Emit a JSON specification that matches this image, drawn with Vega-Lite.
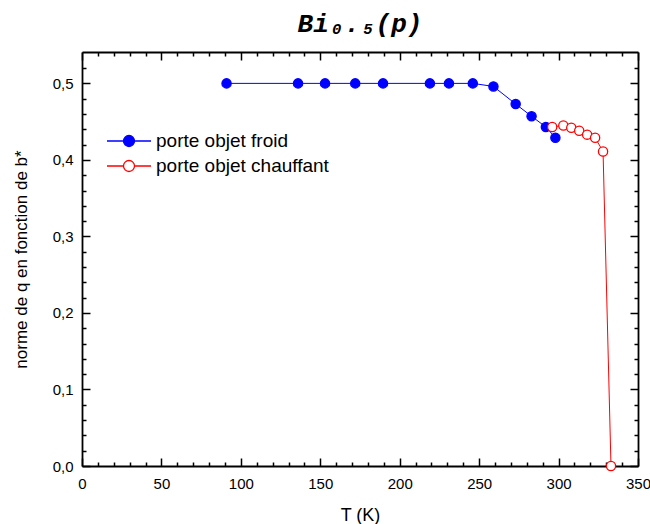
{
  "$schema": "https://vega.github.io/schema/vega-lite/v6.json",
  "width": 556,
  "height": 414,
  "autosize": {"type": "none"},
  "padding": {"left": 82, "top": 52, "right": 12, "bottom": 58},
  "background": "white",
  "config": {
    "view": {"stroke": null},
    "axis": {"grid": false, "domainColor": "black", "domainWidth": 1.8, "tickColor": "black", "tickWidth": 1.5, "labelColor": "black", "titleColor": "black", "labelFont": "Liberation Sans", "titleFont": "Liberation Sans", "labelFontSize": 15, "labelFlush": false, "labelOverlap": false, "titleFontWeight": "normal"}
  },
  "title": {"text": "Bi₀.₅(p)", "font": "Liberation Mono", "fontSize": 26, "fontWeight": "bold", "fontStyle": "italic", "anchor": "middle", "offset": 14, "color": "black"},
  "datasets": {
    "pts": [
      {"serie": "porte objet froid", "T": 91, "q": 0.5},
      {"serie": "porte objet froid", "T": 136, "q": 0.5},
      {"serie": "porte objet froid", "T": 153, "q": 0.5},
      {"serie": "porte objet froid", "T": 172, "q": 0.5},
      {"serie": "porte objet froid", "T": 189.5, "q": 0.5},
      {"serie": "porte objet froid", "T": 219, "q": 0.5},
      {"serie": "porte objet froid", "T": 231, "q": 0.5},
      {"serie": "porte objet froid", "T": 246, "q": 0.5},
      {"serie": "porte objet froid", "T": 259, "q": 0.496},
      {"serie": "porte objet froid", "T": 273, "q": 0.473},
      {"serie": "porte objet froid", "T": 283, "q": 0.457},
      {"serie": "porte objet froid", "T": 292, "q": 0.443},
      {"serie": "porte objet froid", "T": 298, "q": 0.429},
      {"serie": "porte objet chauffant", "T": 296, "q": 0.443},
      {"serie": "porte objet chauffant", "T": 303, "q": 0.445},
      {"serie": "porte objet chauffant", "T": 308, "q": 0.442},
      {"serie": "porte objet chauffant", "T": 313, "q": 0.438},
      {"serie": "porte objet chauffant", "T": 318, "q": 0.433},
      {"serie": "porte objet chauffant", "T": 323, "q": 0.429},
      {"serie": "porte objet chauffant", "T": 328, "q": 0.411},
      {"serie": "porte objet chauffant", "T": 333, "q": 0}
    ]
  },
  "data": {"name": "pts"},
  "resolve": {"axis": {"x": "independent", "y": "independent"}},
  "layer": [
    {
      "mark": {"type": "line", "strokeWidth": 1},
      "encoding": {
        "x": {"field": "T", "type": "quantitative", "scale": {"domain": [0, 350], "nice": false, "zero": false},
          "axis": {"orient": "bottom", "title": "T (K)", "titleFontSize": 18, "titlePadding": 11,
            "values": [0,10,20,30,40,50,60,70,80,90,100,110,120,130,140,150,160,170,180,190,200,210,220,230,240,250,260,270,280,290,300,310,320,330,340,350],
            "labelExpr": "datum.value % 50 === 0 ? datum.label : ''",
            "tickSize": {"condition": {"test": "datum.value % 50 === 0", "value": -8}, "value": -4},
            "labelPadding": 18}},
        "y": {"field": "q", "type": "quantitative", "scale": {"domain": [0, 0.541], "nice": false, "zero": false},
          "axis": {"orient": "left", "title": "norme de q en fonction de b*", "titleFontSize": 17, "titlePadding": 22,
            "values": [0,0.02,0.04,0.06,0.08,0.1,0.12,0.14,0.16,0.18,0.2,0.22,0.24,0.26,0.28,0.3,0.32,0.34,0.36,0.38,0.4,0.42,0.44,0.46,0.48,0.5,0.52],
            "labelExpr": "abs(datum.value*10 - round(datum.value*10)) < 0.001 ? replace(format(datum.value, '.1f'), '.', ',') : ''",
            "tickSize": {"condition": {"test": "abs(datum.value*10 - round(datum.value*10)) < 0.001", "value": -8}, "value": -4},
            "labelPadding": 17}},
        "color": {"field": "serie", "type": "nominal",
          "scale": {"domain": ["porte objet froid", "porte objet chauffant"], "range": ["#0000ff", "#ff0000"]},
          "legend": {"orient": "none", "legendX": 35, "legendY": 77, "title": null, "padding": 0,
            "symbolType": "M-2,0H-0.5A0.5,0.5 0 1 1 0.5,0A0.5,0.5 0 1 1 -0.5,0M0.5,0H2",
            "symbolSize": 484, "symbolStrokeWidth": 1.3, "labelFont": "Liberation Sans", "labelFontSize": 19, "labelLimit": 0, "labelColor": "black", "labelOffset": 15, "rowPadding": 3,
            "encode": {"symbols": {"update": {
              "fill": [{"test": "datum.value === 'porte objet froid'", "value": "#0000ff"}, {"value": "#ffffff"}],
              "stroke": [{"test": "datum.value === 'porte objet froid'", "value": "#0000ff"}, {"value": "#ff0000"}],
              "opacity": {"value": 1}}}}}}
      }
    },
    {
      "mark": {"type": "point", "shape": "circle", "size": 85, "strokeWidth": 1.3, "opacity": 1},
      "encoding": {
        "x": {"field": "T", "type": "quantitative",
          "axis": {"orient": "top", "title": null, "labels": false,
            "values": [0,10,20,30,40,50,60,70,80,90,100,110,120,130,140,150,160,170,180,190,200,210,220,230,240,250,260,270,280,290,300,310,320,330,340,350],
            "tickSize": {"condition": {"test": "datum.value % 50 === 0", "value": -8}, "value": -4}}},
        "y": {"field": "q", "type": "quantitative",
          "axis": {"orient": "right", "title": null, "labels": false,
            "values": [0,0.02,0.04,0.06,0.08,0.1,0.12,0.14,0.16,0.18,0.2,0.22,0.24,0.26,0.28,0.3,0.32,0.34,0.36,0.38,0.4,0.42,0.44,0.46,0.48,0.5,0.52],
            "tickSize": {"condition": {"test": "abs(datum.value*10 - round(datum.value*10)) < 0.001", "value": -8}, "value": -4}}},
        "stroke": {"field": "serie", "type": "nominal",
          "scale": {"domain": ["porte objet froid", "porte objet chauffant"], "range": ["#0000ff", "#ff0000"]}, "legend": null},
        "fill": {"field": "serie", "type": "nominal",
          "scale": {"domain": ["porte objet froid", "porte objet chauffant"], "range": ["#0000ff", "#ffffff"]}, "legend": null}
      }
    }
  ]
}
